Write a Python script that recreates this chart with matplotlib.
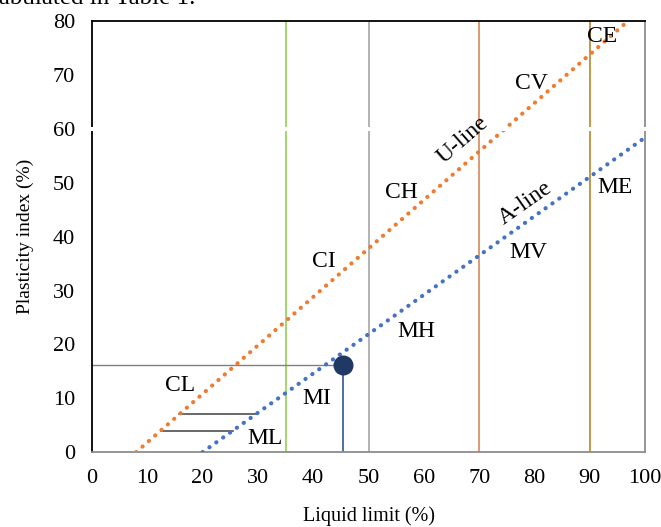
import matplotlib
matplotlib.use('Agg')
import matplotlib.pyplot as plt
import numpy as np

plt.rcParams['font.family'] = ['Liberation Serif', 'DejaVu Serif']

# chart data
ll_range = [0, 100]
pi_range = [0, 80]
x_ticks = [0, 10, 20, 30, 40, 50, 60, 70, 80, 90, 100]
y_ticks = [0, 10, 20, 30, 40, 50, 60, 70, 80]

a_line_ll = [20, 100]            # PI = 0.73 (LL - 20)
u_line_ll = [8, 96.9]            # PI = 0.9 (LL - 8)
bounds_ll = [35, 50, 70, 90]
bounds_col = ['#92D050', '#A6A6A6', '#D9885A', '#B8862B']
cl_ml_pi = [7, 4]

sample_ll = 45.3
sample_pi = 16.2

zone_names = ['CE', 'CV', 'CH', 'ME', 'MV', 'CI', 'MH', 'CL', 'MI', 'ML']
zone_ll = [92.2, 79.5, 55.9, 94.6, 78.8, 42.0, 58.6, 15.9, 40.7, 31.3]
zone_pi = [77.2, 68.5, 48.2, 49.2, 37.1, 35.4, 22.4, 12.4, 10.0, 2.6]


def a_line(ll):
    return 0.73 * (np.asarray(ll) - 20)


def u_line(ll):
    return 0.9 * (np.asarray(ll) - 8)


fig = plt.figure(figsize=(6.61, 5.27), dpi=100)
ax = fig.add_axes([0.139, 0.142, 0.837, 0.818])

# classification boundaries
for x, c in zip(bounds_ll, bounds_col):
    ax.plot([x, x], pi_range, color=c, lw=1.2, zorder=1)

dot = dict(linestyle=(0, (0.05, 1.97)), lw=3.0, dash_capstyle='round', zorder=3)
ax.plot(u_line_ll, u_line(u_line_ll), color='#ED7D31', **dot)
ax.plot(a_line_ll, a_line(a_line_ll), color='#4472C4', **dot)

# CL-ML band
for pi in cl_ml_pi:
    x0 = 8 + pi / 0.9
    x1 = 20 + pi / 0.73
    ax.plot([x0, x1], [pi, pi], color='#404040', lw=1.1, zorder=2)

# sample point
ax.plot([0, sample_ll], [sample_pi, sample_pi], color='#808080', lw=1.0, zorder=2)
ax.plot([sample_ll, sample_ll], [0, sample_pi], color='#2F5597', lw=1.2, zorder=2)
ax.scatter([sample_ll], [sample_pi], s=180, color='#203864', zorder=5)

# axis break at 60
ax.axhspan(59.55, 60.35, xmin=-0.01, xmax=1.01, color='white', lw=0, zorder=10, clip_on=False)

for name, x, y in zip(zone_names, zone_ll, zone_pi):
    ax.text(x, y, name, fontsize=17, ha='center', va='center', zorder=12)

ax.text(67, 57.9, 'U-line', fontsize=17, ha='center', va='center', rotation=41, zorder=12)
ax.text(78.3, 46.2, 'A-line', fontsize=17, ha='center', va='center', rotation=35, zorder=12)

ax.set_xlim(ll_range)
ax.set_ylim(pi_range)
ax.set_xticks(x_ticks)
ax.set_yticks(y_ticks)
ax.tick_params(length=0, labelsize=16, pad=12)
ax.spines['left'].set_color('black')
ax.spines['top'].set_color('black')
ax.spines['right'].set_color('#8C8C8C')
ax.spines['bottom'].set_color('#8C8C8C')
for s in ax.spines.values():
    s.set_linewidth(1.3)

ax.set_xlabel('Liquid limit (%)', fontsize=14.5, labelpad=13)
ax.set_ylabel('Plasticity index (%)', fontsize=14, labelpad=14)

fig.text(-0.012, 1 - 4 / 527, 'tabulated in Table 1.', fontsize=18, va='baseline', ha='left')

fig.savefig('out.png', dpi=100, facecolor='white')
